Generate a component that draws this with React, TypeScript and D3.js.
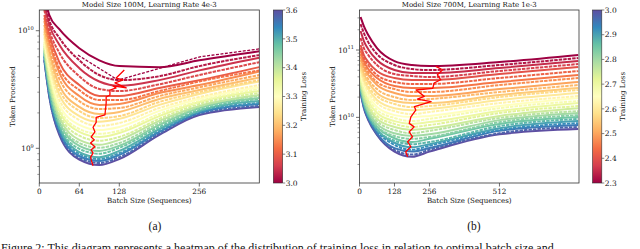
import React from 'react'
import * as d3 from 'd3'

// ---- panel (a): Model Size 100M, LR 4e-3 ----
const batchA = [8, 16, 32, 64, 96, 128, 192, 256, 352]
const lossA = [
  3.0, 3.025, 3.05, 3.075, 3.1, 3.125, 3.15, 3.175, 3.2, 3.225, 3.25, 3.275, 3.3,
  3.325, 3.35, 3.375, 3.4, 3.425, 3.45, 3.475, 3.5, 3.525, 3.55, 3.575, 3.6,
]
// tokens processed, in billions, one row per loss level
const tokensA = [
  [20.1, 13.6, 10.3, 7.1, 5.6, 5.0, 4.9, 5.6, 6.7],
  [18.2, 12.3, 8.7, 5.6, 4.2, 3.8, 4.1, 5.0, 6.2],
  [16.5, 11.2, 7.6, 4.8, 3.7, 3.4, 3.8, 4.6, 5.9],
  [15.0, 10.1, 6.5, 4.1, 3.2, 3.07, 3.5, 4.2, 5.4],
  [13.6, 9.2, 5.4, 3.45, 2.78, 2.78, 3.26, 3.8, 4.9],
  [12.8, 8.5, 4.8, 3.13, 2.57, 2.57, 3.07, 3.7, 4.6],
  [12.1, 7.9, 4.4, 2.78, 2.34, 2.38, 2.95, 3.45, 4.5],
  [11.2, 7.1, 3.9, 2.52, 2.16, 2.2, 2.78, 3.3, 4.2],
  [10.5, 6.6, 3.45, 2.25, 1.96, 2.04, 2.63, 3.13, 4.0],
  [9.9, 6.1, 3.13, 2.08, 1.81, 1.88, 2.48, 3.01, 3.8],
  [9.4, 5.6, 2.84, 1.88, 1.68, 1.78, 2.34, 2.9, 3.7],
  [8.8, 5.2, 2.57, 1.74, 1.55, 1.64, 2.2, 2.73, 3.45],
  [8.3, 4.8, 2.34, 1.58, 1.43, 1.52, 2.08, 2.63, 3.3],
  [8.0, 4.55, 2.2, 1.46, 1.33, 1.41, 1.96, 2.52, 3.2],
  [7.7, 4.3, 2.08, 1.38, 1.25, 1.35, 1.88, 2.48, 3.07],
  [7.4, 4.0, 1.96, 1.28, 1.16, 1.25, 1.78, 2.38, 2.95],
  [7.1, 3.8, 1.85, 1.18, 1.07, 1.18, 1.71, 2.29, 2.84],
  [6.9, 3.6, 1.74, 1.11, 1.01, 1.11, 1.64, 2.25, 2.78],
  [6.7, 3.45, 1.68, 1.05, 0.95, 1.05, 1.58, 2.2, 2.68],
  [6.5, 3.26, 1.58, 0.99, 0.9, 1.01, 1.52, 2.12, 2.63],
  [6.3, 3.13, 1.52, 0.93, 0.84, 0.95, 1.46, 2.08, 2.52],
  [6.1, 3.01, 1.46, 0.9, 0.81, 0.91, 1.41, 2.04, 2.43],
  [6.0, 2.9, 1.41, 0.86, 0.78, 0.88, 1.38, 2.0, 2.38],
  [5.7, 2.78, 1.35, 0.83, 0.75, 0.84, 1.33, 1.96, 2.29],
  [5.6, 2.73, 1.3, 0.8, 0.72, 0.81, 1.3, 1.92, 2.25],
]
// optimal batch size path [batch, tokens (B)]
const optimalA: [number, number][] = [
  [86, 0.71], [83, 0.8], [82, 0.84], [86, 0.91], [83, 0.97], [89, 1.03], [82, 1.11],
  [88, 1.18], [83, 1.25], [89, 1.38], [86, 1.51], [91, 1.66], [91, 1.83], [105, 1.92],
  [107, 2.43], [107, 2.73], [113, 2.84], [113, 3.13], [123, 3.26], [118, 3.39],
  [139, 3.26], [121, 3.6], [134, 3.81], [123, 3.96], [136, 4.64],
]
const fitA: [number, number][] = [[62, 6.2], [126, 3.8], [257, 6.0], [352, 7.0]]
const xTicksA = [0, 64, 128, 256]
const cbTicksA = [3.0, 3.1, 3.2, 3.3, 3.4, 3.5, 3.6]

// ---- panel (b): Model Size 700M, LR 1e-3 ----
const batchB = [4, 16, 32, 64, 128, 192, 256, 512, 800]
const lossB = [
  2.3, 2.325, 2.35, 2.375, 2.4, 2.425, 2.45, 2.475, 2.5, 2.525, 2.55, 2.575, 2.6, 2.625,
  2.65, 2.675, 2.7, 2.725, 2.75, 2.775, 2.8, 2.825, 2.85, 2.875, 2.9, 2.925, 2.95, 2.975, 3.0,
]
const tokensB = [
  [309, 227, 167, 107, 68.6, 59.9, 57.8, 66.3, 84.3],
  [243, 179, 131, 87.2, 59.9, 52.2, 50.4, 59.9, 76.1],
  [192, 136, 103, 71.0, 50.4, 45.5, 45.5, 54.0, 68.6],
  [151, 107, 84.3, 59.9, 44.0, 41.1, 39.7, 48.8, 61.9],
  [119, 84.3, 66.3, 48.8, 38.4, 35.8, 35.8, 44.0, 55.9],
  [107, 76.1, 59.9, 42.5, 33.5, 31.3, 31.3, 38.4, 48.8],
  [96.6, 68.6, 52.2, 38.4, 29.2, 27.3, 27.3, 33.5, 42.5],
  [87.2, 61.9, 47.1, 33.5, 26.3, 23.8, 23.8, 30.2, 38.4],
  [78.7, 55.9, 42.5, 30.2, 23.0, 20.7, 20.7, 26.3, 33.5],
  [71.0, 50.4, 37.1, 26.3, 20.0, 18.1, 18.7, 23.8, 30.2],
  [64.1, 44.0, 33.5, 23.0, 17.5, 16.3, 16.3, 21.5, 27.3],
  [59.9, 39.7, 29.2, 20.7, 15.8, 14.2, 14.7, 20.0, 25.5],
  [54.0, 35.8, 26.3, 18.1, 13.7, 12.8, 13.3, 18.1, 23.0],
  [50.4, 32.3, 23.8, 16.3, 12.4, 11.2, 12.0, 16.3, 20.7],
  [45.5, 30.2, 21.5, 14.2, 10.8, 10.1, 10.5, 14.7, 19.4],
  [42.5, 27.3, 19.4, 12.8, 9.8, 8.8, 9.5, 13.7, 17.5],
  [39.7, 25.5, 17.5, 11.6, 8.8, 8.0, 8.5, 12.4, 16.3],
  [37.1, 23.8, 15.8, 10.5, 8.0, 7.2, 7.7, 11.6, 14.7],
  [34.6, 21.5, 14.7, 9.5, 7.2, 6.5, 6.9, 10.5, 13.7],
  [33.5, 20.0, 13.3, 8.8, 6.5, 5.8, 6.3, 9.8, 12.4],
  [31.3, 18.7, 12.4, 8.0, 5.8, 5.3, 5.6, 9.1, 11.6],
  [30.2, 18.1, 12.0, 7.4, 5.3, 4.8, 5.1, 8.5, 10.8],
  [28.2, 16.9, 11.2, 7.2, 4.9, 4.3, 4.8, 8.0, 10.1],
  [27.3, 16.3, 10.8, 6.7, 4.5, 4.0, 4.3, 7.4, 9.5],
  [26.3, 15.8, 10.5, 6.5, 4.2, 3.6, 4.0, 6.9, 8.8],
  [25.5, 15.2, 10.1, 6.3, 3.9, 3.3, 3.8, 6.5, 8.2],
  [24.6, 14.7, 9.8, 5.8, 3.5, 3.1, 3.5, 6.3, 7.7],
  [23.8, 14.2, 9.5, 5.6, 3.3, 2.8, 3.3, 5.8, 7.2],
  [23.0, 13.7, 9.1, 5.5, 3.1, 2.6, 3.1, 5.6, 6.7],
]
const optimalB: [number, number][] = [
  [176, 2.6], [169, 3.08], [188, 3.66], [176, 4.34], [194, 5.15], [182, 6.11], [200, 7.23],
  [182, 8.15], [188, 10.2], [206, 12.8], [201, 14.4], [262, 17.1], [212, 18.7], [237, 20.5],
  [207, 25.5], [268, 27.0], [273, 32.4], [297, 36.2], [285, 42.9], [304, 50.9], [279, 57.3],
]
const xTicksB = [0, 128, 256, 512]
const cbTicksB = [2.3, 2.4, 2.5, 2.6, 2.7, 2.8, 2.9, 3.0]

const SPECTRAL = d3.schemeSpectral[11]
const spectral = d3
  .scaleLinear<string>()
  .domain(d3.range(SPECTRAL.length).map(i => i / (SPECTRAL.length - 1)))
  .range(SPECTRAL as string[])
  .interpolate(d3.interpolateRgb)

const FONT = 'DejaVu Serif'
const AXIS = '#333'
const INK = '#111'

interface PanelProps {
  id: string
  title: string
  sub: string
  subX: number
  left: number
  right: number
  cbLeft: number
  cbRight: number
  cbLabelX: number
  xDomain: [number, number]
  yDomain: [number, number]
  lossDomain: [number, number]
  xTicks: number[]
  cbTicks: number[]
  batch: number[]
  loss: number[]
  tokens: number[][]
  optimal: [number, number][]
  fit?: [number, number][]
}

const TOP = 10
const BOTTOM = 183

const Panel: React.FC<PanelProps> = p => {
  const x = d3.scaleLinear().domain(p.xDomain).range([p.left, p.right])
  const y = d3.scaleLog().domain(p.yDomain).range([BOTTOM, TOP])
  const cb = d3.scaleLinear().domain(p.lossDomain).range([BOTTOM, TOP])
  const norm = d3.scaleLinear().domain(p.lossDomain).range([0, 1])
  const line = d3
    .line<[number, number]>()
    .x(d => x(d[0]))
    .y(d => y(d[1]))
    .curve(d3.curveMonotoneX)
  const poly = d3
    .line<[number, number]>()
    .x(d => x(d[0]))
    .y(d => y(d[1]))

  const yTicks = y.ticks()
  const isMajor = (v: number) => Math.abs(Math.log10(v) - Math.round(Math.log10(v))) < 1e-6
  const cx = (p.left + p.right) / 2
  const order = d3.range(p.loss.length).reverse()

  return (
    <g>
      <defs>
        <clipPath id={`clip-${p.id}`}>
          <rect x={p.left} y={TOP} width={p.right - p.left} height={BOTTOM - TOP} />
        </clipPath>
        <linearGradient id={`grad-${p.id}`} x1="0" y1="1" x2="0" y2="0">
          {SPECTRAL.map((c, i) => (
            <stop key={i} offset={`${(i / (SPECTRAL.length - 1)) * 100}%`} stopColor={c} />
          ))}
        </linearGradient>
      </defs>

      <g clipPath={`url(#clip-${p.id})`} fill="none">
        {order.map(i => (
          <path
            key={i}
            d={line(p.batch.map((b, j) => [b, p.tokens[i][j]] as [number, number])) || ''}
            stroke={spectral(norm(p.loss[i]))}
            strokeWidth={2}
            strokeDasharray={i % 2 === 1 ? '3.5 1' : undefined}
          />
        ))}
        {p.fit && (
          <path
            d={poly(p.fit) || ''}
            stroke={spectral(norm(p.loss[0]))}
            strokeWidth={1.3}
            strokeDasharray="3 1.5"
          />
        )}
        <path d={poly(p.optimal) || ''} stroke="#ff0000" strokeWidth={1.3} strokeLinejoin="round" />
      </g>

      <rect
        x={p.left}
        y={TOP}
        width={p.right - p.left}
        height={BOTTOM - TOP}
        fill="none"
        stroke={AXIS}
        strokeWidth={0.8}
      />

      {p.xTicks.map(t => (
        <g key={t}>
          <line x1={x(t)} x2={x(t)} y1={BOTTOM} y2={BOTTOM + 3.5} stroke={AXIS} strokeWidth={0.7} />
          <text x={x(t)} y={BOTTOM + 11} fontSize={7.3} textAnchor="middle" fill={INK}>
            {t}
          </text>
        </g>
      ))}

      {yTicks.map(t => {
        const major = isMajor(t)
        const yy = y(t)
        return (
          <g key={t}>
            <line
              x1={p.left - (major ? 3.5 : 2)}
              x2={p.left}
              y1={yy}
              y2={yy}
              stroke={AXIS}
              strokeWidth={major ? 0.7 : 0.5}
            />
            {major && (
              <text x={p.left - 5.5} y={yy + 2.6} fontSize={7.3} textAnchor="end" fill={INK}>
                10
                <tspan dy={-3.4} fontSize={5.1}>
                  {Math.round(Math.log10(t)) + 9}
                </tspan>
              </text>
            )}
          </g>
        )
      })}

      <text x={cx} y={6.8} fontSize={7} textAnchor="middle" fill={INK}>
        {p.title}
      </text>
      <text x={cx} y={203} fontSize={7.1} textAnchor="middle" fill={INK}>
        Batch Size (Sequences)
      </text>
      <text
        transform={`translate(${p.left - 24.5},96.5) rotate(-90)`}
        fontSize={7.1}
        textAnchor="middle"
        fill={INK}
      >
        Token Processed
      </text>

      <rect
        x={p.cbLeft}
        y={TOP}
        width={p.cbRight - p.cbLeft}
        height={BOTTOM - TOP}
        fill={`url(#grad-${p.id})`}
        stroke={AXIS}
        strokeWidth={0.6}
      />
      {p.cbTicks.map(t => (
        <g key={t}>
          <line x1={p.cbRight} x2={p.cbRight + 2.5} y1={cb(t)} y2={cb(t)} stroke={AXIS} strokeWidth={0.6} />
          <text x={p.cbRight + 3} y={cb(t) + 2.7} fontSize={7.5} fill={INK}>
            {d3.format('.1f')(t)}
          </text>
        </g>
      ))}
      <text
        transform={`translate(${p.cbLabelX},96.5) rotate(-90)`}
        fontSize={7.1}
        textAnchor="middle"
        fill={INK}
      >
        Training Loss
      </text>

      <text x={p.subX} y={229.5} fontSize={11.5} textAnchor="middle" fontFamily="Liberation Serif" fill={INK}>
        {p.sub}
      </text>
    </g>
  )
}

export default function App() {
  return (
    <svg
      width={640}
      height={249}
      style={{ position: 'absolute', left: 0, top: 0, background: '#fff' }}
      fontFamily={FONT}
    >
      <Panel
        id="a"
        title="Model Size 100M, Learning Rate 4e-3"
        sub="(a)"
        subX={155}
        left={39.3}
        right={259.3}
        cbLeft={273.3}
        cbRight={282.7}
        cbLabelX={306}
        xDomain={[0, 352]}
        yDomain={[0.507, 15.0]}
        lossDomain={[3.0, 3.6]}
        xTicks={xTicksA}
        cbTicks={cbTicksA}
        batch={batchA}
        loss={lossA}
        tokens={tokensA}
        optimal={optimalA}
        fit={fitA}
      />
      <Panel
        id="b"
        title="Model Size 700M, Learning Rate 1e-3"
        sub="(b)"
        subX={474}
        left={359.5}
        right={579}
        cbLeft={592.5}
        cbRight={601.8}
        cbLabelX={624.5}
        xDomain={[0, 803]}
        yDomain={[1.06, 393]}
        lossDomain={[2.3, 3.0]}
        xTicks={xTicksB}
        cbTicks={cbTicksB}
        batch={batchB}
        loss={lossB}
        tokens={tokensB}
        optimal={optimalB}
      />
      <text x={1} y={251.5} fontSize={12} fontFamily="Liberation Serif" fill={INK}>
        Figure 2: This diagram represents a heatmap of the distribution of training loss in relation to optimal batch size and
      </text>
    </svg>
  )
}
